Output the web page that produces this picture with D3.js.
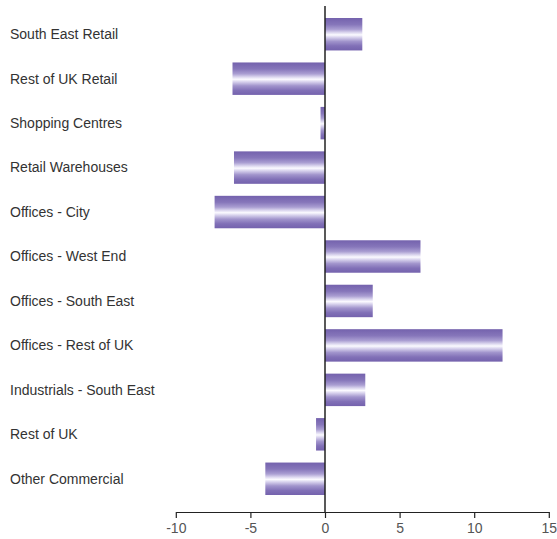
<!DOCTYPE html>
<html>
<head>
<meta charset="utf-8">
<script src="https://cdn.jsdelivr.net/npm/d3@7"></script>
<style>
  html, body { margin: 0; padding: 0; background: #fff; }
  svg { display: block; }
</style>
</head>
<body>
<svg id="chart" width="557" height="539"></svg>
<script>
const categories = [
  "South East Retail",
  "Rest of UK Retail",
  "Shopping Centres",
  "Retail Warehouses",
  "Offices - City",
  "Offices - West End",
  "Offices - South East",
  "Offices - Rest of UK",
  "Industrials - South East",
  "Rest of UK",
  "Other Commercial"
];
const values = [2.5, -6.2, -0.3, -6.1, -7.4, 6.4, 3.2, 11.9, 2.7, -0.6, -4.0];
const xTicks = [-10, -5, 0, 5, 10, 15];

const svg = d3.select("#chart");
const font = "'Liberation Sans', Arial, Helvetica, sans-serif";

const x = d3.scaleLinear().domain([-10, 15]).range([175.8, 548.8]);
const y = d3.scaleBand().domain(categories).range([6, 507]).paddingInner(0.27).paddingOuter(0.27);

// vertical purple-white-purple sheen for the bars
const defs = svg.append("defs");
const grad = defs.append("linearGradient")
  .attr("id", "barSheen").attr("x1", 0).attr("y1", 0).attr("x2", 0).attr("y2", 1);
[
  [0, "#7462ad"], [0.2, "#8676ba"], [0.35, "#aa9ed2"], [0.45, "#dcd7ef"],
  [0.52, "#fbfaff"], [0.6, "#d6d0ec"], [0.72, "#a194cc"], [0.86, "#8170b7"], [1, "#7462ad"]
].forEach(([o, c]) => grad.append("stop").attr("offset", o).attr("stop-color", c));

// bars
svg.append("g").selectAll("rect")
  .data(categories.map((c, i) => ({ c, v: values[i] })))
  .join("rect")
  .attr("x", d => x(Math.min(0, d.v)))
  .attr("y", d => y(d.c))
  .attr("width", d => Math.abs(x(d.v) - x(0)))
  .attr("height", y.bandwidth())
  .attr("fill", "url(#barSheen)");

// category labels
svg.append("g").selectAll("text")
  .data(categories)
  .join("text")
  .attr("x", 10)
  .attr("y", d => y(d) + y.bandwidth() / 2)
  .attr("dy", "0.35em")
  .attr("font-family", font)
  .attr("font-size", 14)
  .attr("fill", "#333")
  .text(d => d);

// zero line
svg.append("line")
  .attr("x1", x(0)).attr("x2", x(0))
  .attr("y1", 6).attr("y2", 512)
  .attr("stroke", "#222").attr("stroke-width", 1.5);

// x axis
const axis = svg.append("g")
  .attr("transform", "translate(0,512)")
  .call(d3.axisBottom(x).tickValues(xTicks).tickSize(6).tickSizeOuter(0).tickFormat(d => String(d)));
axis.select(".domain").attr("stroke", "#222").attr("stroke-width", 1.2);
axis.selectAll(".tick line").attr("stroke", "#222").attr("stroke-width", 1.2);
axis.selectAll(".tick text")
  .attr("font-family", font)
  .attr("font-size", 14)
  .attr("fill", "#555")
  .attr("y", 11);
</script>
</body>
</html>
